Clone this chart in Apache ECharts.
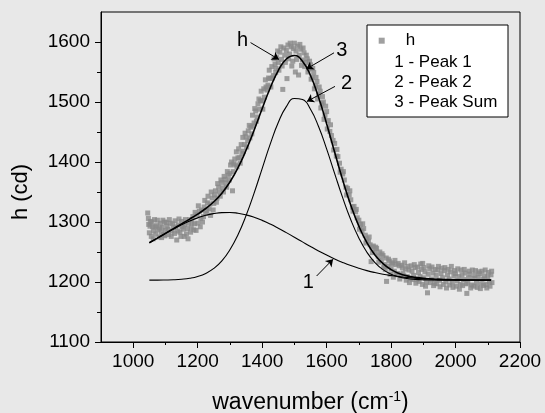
<!DOCTYPE html>
<html>
<head>
<meta charset="utf-8">
<script src="https://cdn.jsdelivr.net/npm/echarts@6/dist/echarts.min.js"></script>
<style>
html,body{margin:0;padding:0;background:#e8e8e8;}
#c{width:545px;height:413px;}
</style>
</head>
<body>
<div id="c"></div>
<script>
// measured points (h)
const hData = [
[1045,1315],[1048,1296],[1050,1282],[1053,1301],[1056,1276],[1060,1292],[1063,1285],[1066,1304],[1070,1280],[1073,1294],
[1077,1287],[1080,1275],[1084,1298],[1087,1283],[1090,1291],[1094,1279],[1097,1300],[1100,1286],[1105,1293],[1110,1279],
[1115,1298],[1120,1285],[1125,1290],[1130,1302],[1135,1270],[1140,1295],[1145,1283],[1150,1301],[1155,1288],[1160,1296],
[1165,1280],[1170,1272],[1175,1304],[1180,1291],[1185,1309],[1190,1297],[1195,1286],[1198,1312],[1200,1298],[1205,1318],
[1210,1306],[1215,1300],[1220,1325],[1225,1314],[1230,1332],[1235,1322],[1240,1311],[1245,1340],[1250,1331],[1255,1352],
[1260,1340],[1265,1358],[1270,1343],[1275,1366],[1280,1350],[1285,1371],[1290,1358],[1295,1378],[1300,1381],[1305,1400],
[1308,1352],[1310,1384],[1315,1405],[1318,1395],[1320,1417],[1325,1407],[1330,1407],[1335,1429],[1340,1441],[1342,1418],
[1345,1429],[1350,1442],[1355,1435],[1360,1461],[1365,1458],[1368,1447],[1370,1478],[1375,1465],[1380,1485],[1385,1475],
[1390,1505],[1392,1488],[1395,1502],[1400,1502],[1405,1522],[1410,1537],[1415,1520],[1418,1528],[1420,1540],[1425,1539],
[1430,1559],[1435,1544],[1440,1563],[1443,1556],[1445,1574],[1450,1566],[1455,1583],[1460,1571],[1464,1521],[1467,1590],
[1470,1578],[1475,1586],[1477,1539],[1480,1595],[1485,1580],[1490,1592],[1495,1568],[1500,1598],[1503,1550],[1505,1585],
[1510,1593],[1513,1545],[1515,1578],[1520,1588],[1525,1570],[1530,1582],[1535,1566],[1540,1572],[1545,1555],[1550,1562],
[1555,1541],[1560,1549],[1565,1527],[1570,1534],[1575,1512],[1580,1518],[1585,1497],[1590,1500],[1595,1478],[1600,1484],
[1605,1469],[1610,1451],[1615,1444],[1620,1436],[1625,1431],[1630,1410],[1635,1409],[1640,1398],[1645,1388],[1650,1380],
[1655,1370],[1660,1358],[1665,1356],[1670,1345],[1675,1337],[1680,1325],[1685,1326],[1690,1317],[1695,1307],[1700,1303],
[1705,1296],[1710,1285],[1715,1289],[1720,1278],[1725,1272],[1730,1268],[1735,1262],[1738,1234],[1740,1258],[1745,1260],
[1750,1250],[1755,1256],[1760,1243],[1765,1250],[1770,1236],[1775,1244],[1780,1229],[1785,1240],[1786,1201],[1790,1226],
[1795,1235],[1800,1222],[1805,1232],[1810,1218],[1815,1229],[1820,1214],[1825,1227],[1830,1212],[1835,1224],[1840,1210],
[1845,1222],[1850,1209],[1855,1220],[1860,1206],[1865,1218],[1870,1211],[1875,1224],[1880,1204],[1885,1216],[1890,1209],
[1895,1221],[1898,1231],[1900,1207],[1905,1217],[1910,1200],[1913,1182],[1915,1213],[1920,1222],[1925,1205],[1930,1215],
[1935,1198],[1940,1211],[1945,1220],[1950,1203],[1955,1214],[1960,1207],[1965,1219],[1970,1200],[1975,1212],[1980,1205],
[1985,1217],[1990,1199],[1995,1210],[2000,1214],[2005,1202],[2010,1209],[2015,1196],[2020,1212],[2025,1204],[2030,1215],
[2035,1181],[2038,1198],[2040,1207],[2045,1213],[2050,1195],[2055,1206],[2060,1211],[2065,1199],[2070,1208],[2075,1214],
[2080,1197],[2085,1205],[2090,1210],[2095,1196],[2100,1208],[2105,1201],[2110,1212],[2113,1199],
[1047,1306],[1052,1293],[1058,1300],[1062,1272],[1068,1292],[1075,1303],[1082,1290],[1088,1274],[1092,1303],[1098,1277],
[1102,1299],[1108,1288],[1112,1304],[1118,1276],[1122,1297],[1128,1281],[1132,1292],[1138,1285],[1142,1305],[1148,1276],
[1152,1292],[1158,1276],[1162,1304],[1168,1289],[1172,1298],[1178,1283],[1182,1299],[1188,1287],[1192,1316],[1202,1327],
[1208,1292],[1212,1320],[1218,1309],[1222,1336],[1228,1319],[1232,1343],[1238,1330],[1242,1350],[1248,1320],[1252,1345],
[1258,1333],[1262,1364],[1268,1350],[1272,1370],[1278,1357],[1282,1376],[1288,1365],[1292,1384],[1298,1370],
[1302,1395],[1312,1397],[1322,1392],[1327,1422],[1332,1398],[1337,1414],[1347,1448],[1352,1425],[1357,1452],[1362,1440],
[1372,1460],[1377,1489],[1382,1468],[1387,1497],[1397,1518],[1402,1488],[1407,1508],[1412,1525],[1422,1553],[1427,1525],
[1432,1540],[1437,1572],[1442,1549],
[1448,1585],[1452,1553],[1458,1592],[1462,1560],[1472,1566],[1482,1572],[1487,1598],[1492,1560],[1497,1589],[1507,1571],
[1517,1596],[1522,1561],[1527,1590],[1532,1559],[1537,1578],[1542,1550],[1547,1568],[1552,1538],[1557,1556],[1562,1522],
[1567,1541],[1572,1505],[1577,1525],[1582,1490],[1587,1509],[1592,1471],[1597,1493],
[1602,1455],[1612,1462],[1622,1420],[1632,1421],[1642,1383],[1652,1384],[1662,1345],[1672,1352],[1682,1318],[1692,1321],
[1702,1288],[1712,1297],[1722,1265],[1732,1275],[1742,1249],[1752,1258],[1762,1233],[1772,1247],[1777,1225],
[1782,1221],[1792,1238],[1797,1213],[1802,1230],[1807,1208],[1812,1236],[1817,1212],[1822,1231],[1827,1205],[1832,1228],
[1837,1215],[1842,1232],[1847,1203],[1852,1226],[1857,1199],[1862,1227],[1867,1204],[1872,1229],[1877,1198],[1882,1225],
[1887,1201],[1892,1230],[1897,1196],[1902,1224],[1907,1193],[1917,1227],[1922,1199],[1927,1225],[1932,1194],[1937,1221],
[1942,1197],[1947,1226],[1952,1192],[1957,1223],[1962,1196],[1967,1224],[1972,1190],[1977,1221],[1982,1195],[1987,1226],
[1992,1191],[1997,1219],[2002,1193],[2007,1222],[2012,1188],[2017,1220],[2022,1194],[2027,1221],[2032,1197],[2042,1218],
[2047,1190],[2052,1220],[2057,1193],[2062,1219],[2067,1191],[2072,1217],[2077,1189],[2082,1218],[2087,1194],[2092,1220],
[2097,1190],[2102,1216],[2107,1193],[2112,1218]
];

// fitted curves
const curveX = [1050,1075,1100,1125,1150,1175,1200,1225,1250,1275,1300,1325,1350,1375,1400,1425,1450,1475,1500,1525,
1550,1575,1600,1625,1650,1675,1700,1725,1750,1775,1800,1825,1850,1875,1900,1925,1950,1975,2000,2025,2050,2075,2100,2110];
const peak1Y = [1265.3,1273.1,1280.8,1288.3,1295.3,1301.6,1306.9,1311.2,1314.1,1315.7,1315.9,1314.6,1311.9,1307.9,1302.7,
1296.6,1289.7,1282.3,1274.7,1266.9,1259.2,1251.8,1244.9,1238.4,1232.6,1227.4,1222.9,1219.0,1215.7,1212.9,1210.7,1208.9,
1207.4,1206.3,1205.4,1204.8,1204.3,1203.9,1203.6,1203.4,1203.3,1203.2,1203.1,1203.1];
const peak2Y = [1203.1,1203.1,1203.3,1203.7,1204.6,1206.2,1209.2,1214.3,1222.6,1235.3,1253.8,1278.8,1310.6,1348.1,1389.0,
1429.8,1465.7,1492.3,1505.8,1504.2,1487.9,1459.1,1421.9,1380.7,1340.2,1303.7,1273.3,1249.6,1232.4,1220.6,1213.0,1208.4,
1205.8,1204.4,1203.6,1203.3,1203.1,1203.0,1203.0,1203.0,1203.0,1203.0,1203.0,1203.0];
const sumY = [1265.4,1273.2,1281.1,1289.0,1296.9,1304.8,1313.1,1322.5,1333.7,1348.0,1366.7,1390.4,1419.5,1453.0,1488.7,
1523.4,1552.4,1571.6,1577.5,1568.1,1544.1,1507.9,1463.8,1416.1,1369.8,1328.1,1293.2,1265.6,1245.1,1230.5,1220.7,1214.3,
1210.2,1207.7,1206.0,1205.1,1204.4,1203.9,1203.6,1203.4,1203.3,1203.2,1203.1,1203.1];

// ticks
const xMajorTicks = [1000,1200,1400,1600,1800,2000,2200];
const xMinorTicks = [1100,1300,1500,1700,1900,2100];
const yMajorTicks = [1100,1200,1300,1400,1500,1600];
const yMinorTicks = [1150,1250,1350,1450,1550];

const FONT = 'Liberation Sans, Arial, sans-serif';
const pair = (xs, ys) => xs.map((x, i) => [x, ys[i]]);
const plain = v => String(v);

const chart = echarts.init(document.getElementById('c'), null, {renderer: 'canvas'});
chart.setOption({
  backgroundColor: '#e8e8e8',
  animation: false,
  textStyle: {fontFamily: FONT},
  grid: {left: 101, right: 25, top: 12, bottom: 71, containLabel: false, outerBoundsMode: 'none',
    show: true, borderColor: '#000', borderWidth: 1, backgroundColor: 'transparent'},
  graphic: [{
    type: 'rect', z: 1,
    shape: {x: 367, y: 25, width: 141, height: 92},
    style: {fill: '#fff', stroke: '#000', lineWidth: 1}
  }],
  legend: [{
    data: ['h'], left: 378.7, top: 30.7, orient: 'vertical', selectedMode: false, padding: 0,
    itemWidth: 38, itemHeight: 6, icon: 'path://M0 0H10V10H0Z', symbolKeepAspect: true,
    textStyle: {fontSize: 17, color: '#000', fontFamily: FONT, lineHeight: 20}
  }, {
    data: ['1 - Peak 1', '2 - Peak 2', '3 - Peak Sum'], left: 388.3, top: 52, orient: 'vertical', selectedMode: false, padding: 0,
    itemWidth: 0, itemHeight: 0, itemGap: 0,
    itemStyle: {opacity: 0}, lineStyle: {opacity: 0},
    textStyle: {fontSize: 17, color: '#000', fontFamily: FONT, lineHeight: 20}
  }],
  xAxis: [{
    type: 'value', min: 900, max: 2200, position: 'bottom',
    axisLine: {show: true, lineStyle: {color: '#000', width: 1}},
    axisTick: {show: true, inside: false, length: 6, customValues: xMajorTicks, lineStyle: {color: '#000'}},
    axisLabel: {show: true, customValues: xMajorTicks, formatter: plain, fontSize: 19, color: '#000', margin: 10, fontFamily: FONT},
    splitLine: {show: false},
    name: 'wavenumber (cm{sup|-1})', nameLocation: 'middle', nameGap: 48,
    nameTextStyle: {fontSize: 23, color: '#000', fontFamily: FONT,
      rich: {sup: {fontSize: 14, verticalAlign: 'top', padding: [0, 0, 12, 0], color: '#000', fontFamily: FONT}}}
  }, {
    type: 'value', min: 900, max: 2200, position: 'bottom',
    axisLine: {show: false},
    axisTick: {show: true, inside: false, length: 3, customValues: xMinorTicks, lineStyle: {color: '#000'}},
    axisLabel: {show: false},
    splitLine: {show: false}
  }],
  yAxis: [{
    type: 'value', min: 1100, max: 1650, position: 'left',
    axisLine: {show: true, lineStyle: {color: '#000', width: 1}},
    axisTick: {show: true, inside: false, length: 6, customValues: yMajorTicks, lineStyle: {color: '#000'}},
    axisLabel: {show: true, customValues: yMajorTicks, formatter: plain, fontSize: 19, color: '#000', margin: 11, fontFamily: FONT},
    splitLine: {show: false},
    name: 'h (cd)', nameLocation: 'middle', nameGap: 69,
    nameTextStyle: {fontSize: 22, color: '#000', fontFamily: FONT, padding: [0, 30, 0, 0]}
  }, {
    type: 'value', min: 1100, max: 1650, position: 'left',
    axisLine: {show: false},
    axisTick: {show: true, inside: false, length: 4, customValues: yMinorTicks, lineStyle: {color: '#000'}},
    axisLabel: {show: false},
    splitLine: {show: false}
  }],
  series: [{
    name: 'h', type: 'scatter', data: hData, symbol: 'rect', symbolSize: 5,
    itemStyle: {color: '#888888'}, silent: true, z: 2
  }, {
    name: '1 - Peak 1', type: 'line', data: pair(curveX, peak1Y), smooth: true, showSymbol: false, symbol: 'none',
    lineStyle: {color: '#000', width: 1.1}, silent: true, z: 3,
    markLine: {
      silent: true, symbol: ['none', 'arrow'], symbolSize: 7, animation: false,
      lineStyle: {color: '#000', width: 1, type: 'solid'}, label: {show: false},
      data: [
        [{coord: [1364, 1599]}, {coord: [1452, 1571]}],
        [{coord: [1623, 1582]}, {coord: [1537, 1555]}],
        [{coord: [1626, 1526]}, {coord: [1539, 1501]}],
        [{coord: [1569, 1210]}, {coord: [1620, 1238]}]
      ]
    },
    markPoint: {
      silent: true, symbol: 'rect', symbolSize: 1, itemStyle: {color: 'transparent'}, animation: false,
      label: {show: true, position: 'inside', formatter: '{b}', fontSize: 20, color: '#000', fontFamily: FONT},
      data: [
        {name: 'h', coord: [1339, 1603]},
        {name: '3', coord: [1647, 1586]},
        {name: '2', coord: [1662, 1531]},
        {name: '1', coord: [1543, 1200]}
      ]
    }
  }, {
    name: '2 - Peak 2', type: 'line', data: pair(curveX, peak2Y), smooth: true, showSymbol: false, symbol: 'none',
    lineStyle: {color: '#000', width: 1.1}, silent: true, z: 3
  }, {
    name: '3 - Peak Sum', type: 'line', data: pair(curveX, sumY), smooth: true, showSymbol: false, symbol: 'none',
    lineStyle: {color: '#000', width: 1.6}, silent: true, z: 4
  }]
});
</script>
</body>
</html>
